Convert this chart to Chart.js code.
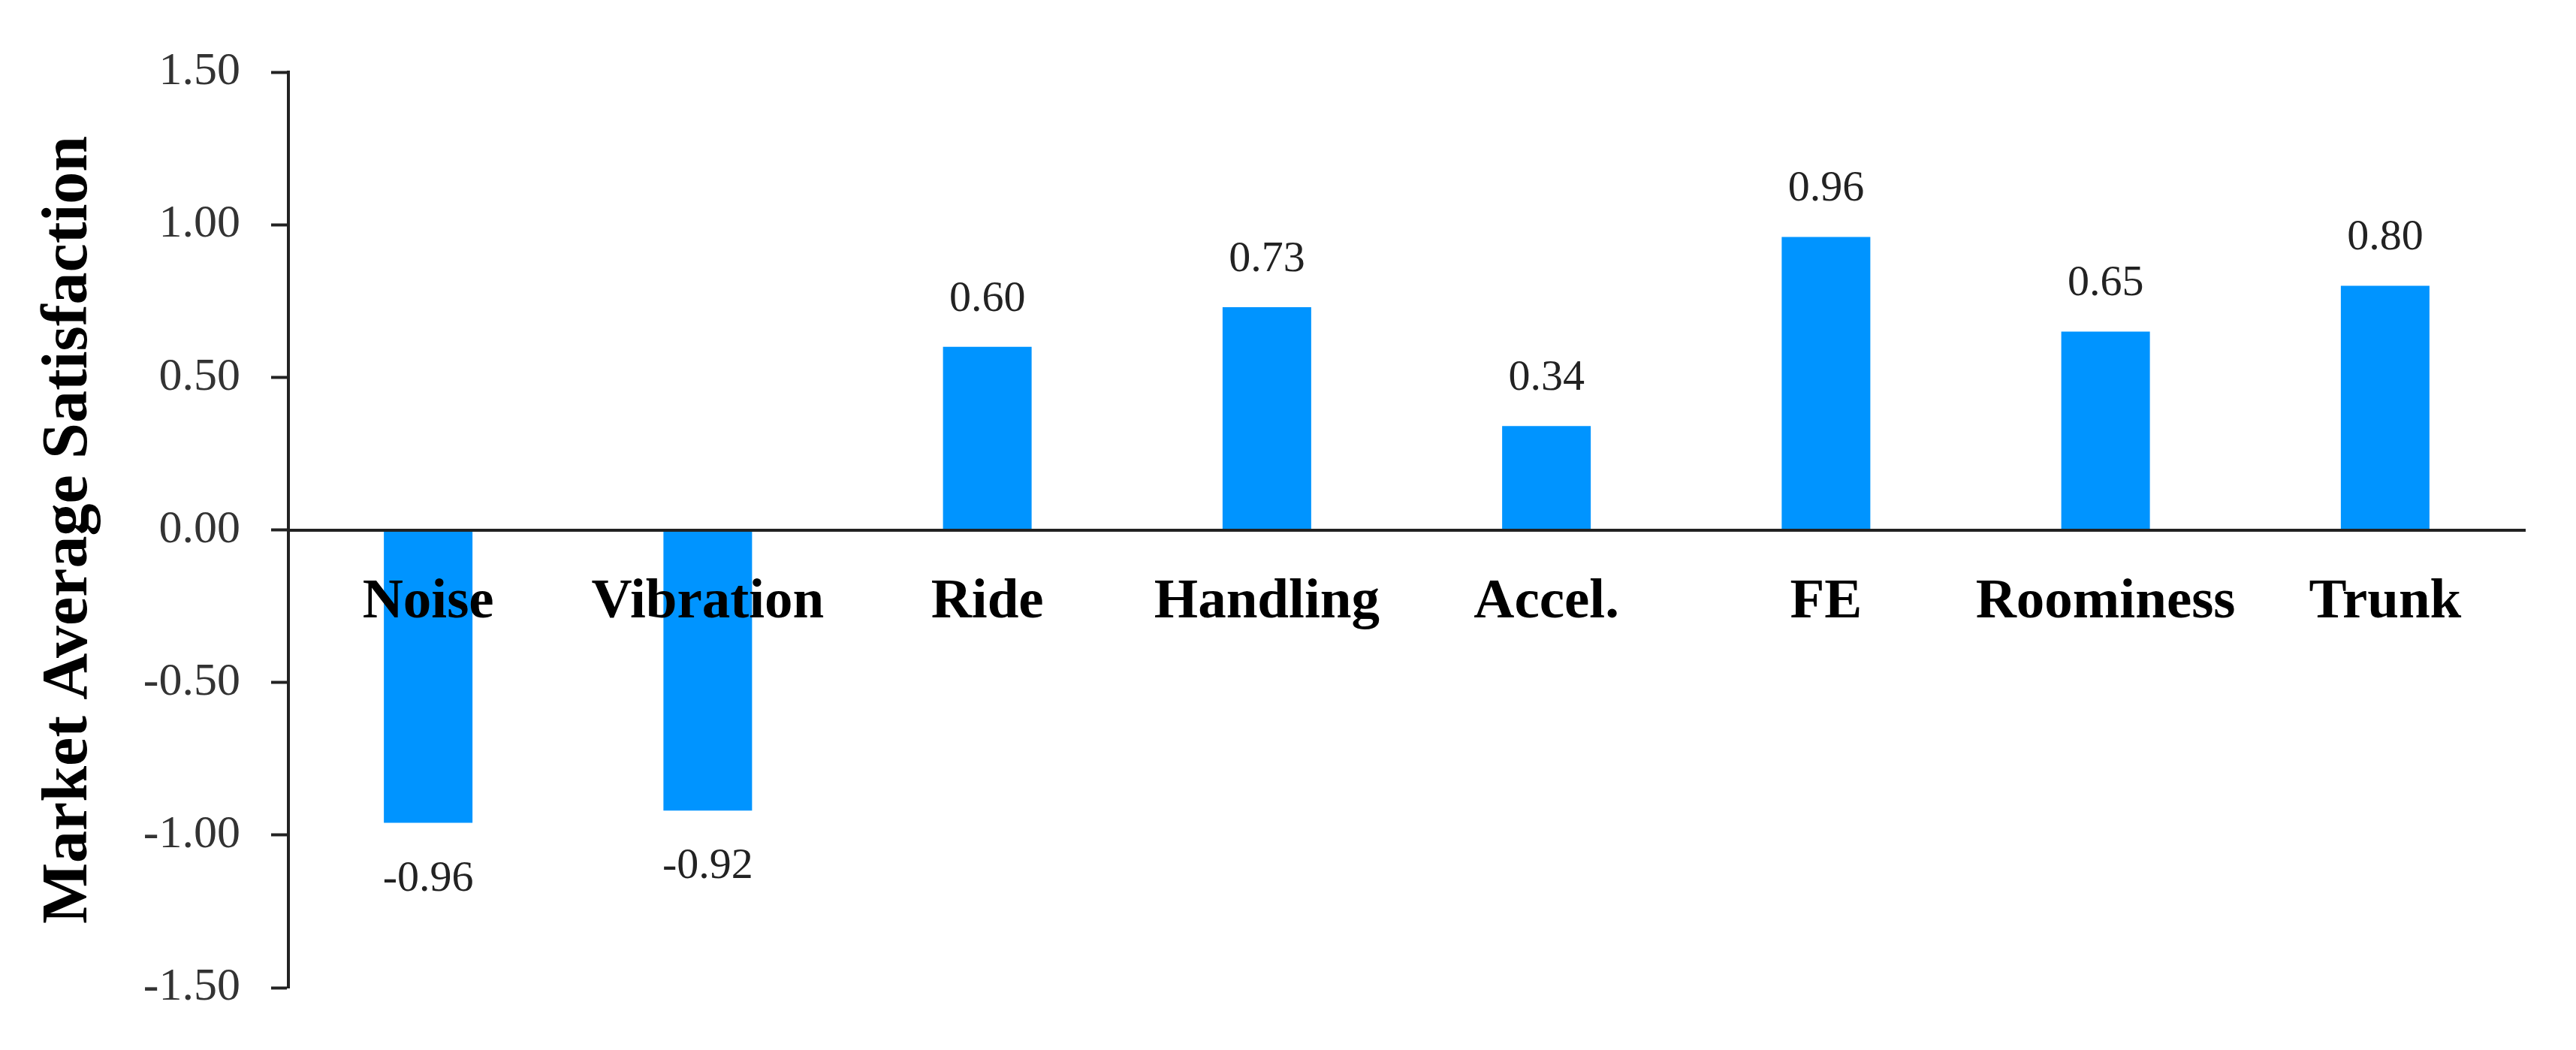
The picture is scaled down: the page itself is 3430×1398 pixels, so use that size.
<!DOCTYPE html>
<html>
<head>
<meta charset="utf-8">
<title>Market Average Satisfaction</title>
<script src="https://cdn.jsdelivr.net/npm/chart.js@4.4.6/dist/chart.umd.min.js"></script>
<style>
  html, body { margin: 0; padding: 0; background: #fff; }
  #wrap { width: 3430px; height: 1398px; position: relative; }
</style>
</head>
<body>
<div id="wrap"><canvas id="chart"></canvas></div>
<script>
// Values.
const categories = ['Noise', 'Vibration', 'Ride', 'Handling', 'Accel.', 'FE', 'Roominess', 'Trunk'];
const satisfaction = [-0.96, -0.92, 0.60, 0.73, 0.34, 0.96, 0.65, 0.80];
const yMin = -1.5, yMax = 1.5, yStep = 0.5;

const SERIF = '"Liberation Serif", "Times New Roman", serif';
const AXIS = '#222';

// value labels above positive bars, below negative ones
const valueLabels = {
  id: 'valueLabels',
  afterDatasetsDraw(chart){
    const ctx = chart.ctx;
    const meta = chart.getDatasetMeta(0);
    ctx.save();
    ctx.font = '58px ' + SERIF;
    ctx.fillStyle = '#222';
    ctx.textAlign = 'center';
    ctx.textBaseline = 'alphabetic';
    meta.data.forEach((bar, i) => {
      const v = satisfaction[i];
      const y = v >= 0 ? bar.y - 48 : bar.y + 90;
      ctx.fillText(v.toFixed(2), bar.x, y);
    });
    ctx.restore();
  }
};

new Chart(document.getElementById('chart'), {
  type: 'bar',
  data: {
    labels: categories,
    datasets: [{
      data: satisfaction,
      backgroundColor: '#0094FF',
      borderWidth: 0,
      categoryPercentage: 1,
      barPercentage: 0.317
    }]
  },
  options: {
    responsive: true,
    maintainAspectRatio: false,
    animation: false,
    devicePixelRatio: 1,
    layout: { padding: { left: 0, top: 96, right: 68, bottom: 83 } },
    plugins: { legend: { display: false }, tooltip: { enabled: false } },
    scales: {
      x: {
        position: { y: 0 },
        grid: { display: false, drawTicks: false },
        border: { display: true, color: AXIS, width: 4, z: 1 },
        ticks: {
          z: 1, // category names sit on top of the bars
          autoSkip: false, maxRotation: 0, padding: 52,
          color: '#000',
          font: { family: SERIF, size: 75, weight: 'bold' }
        },
        afterFit(scale){ scale.height = 0; }
      },
      y: {
        position: 'left',
        min: yMin, max: yMax,
        grid: { drawOnChartArea: false, drawTicks: true, tickLength: 23, tickColor: AXIS, tickWidth: 4 },
        border: { display: true, color: AXIS, width: 4 },
        ticks: {
          stepSize: yStep, padding: 41,
          color: '#333',
          font: { family: SERIF, size: 62 },
          callback: v => Number(v).toFixed(2)
        },
        title: {
          display: true,
          text: 'Market Average Satisfaction',
          color: '#000',
          padding: { top: 41, bottom: 0 },
          font: { family: SERIF, size: 86, weight: 'bold' }
        },
        afterFit(scale){ scale.width = 384; }
      }
    }
  },
  plugins: [valueLabels]
});
</script>
</body>
</html>
